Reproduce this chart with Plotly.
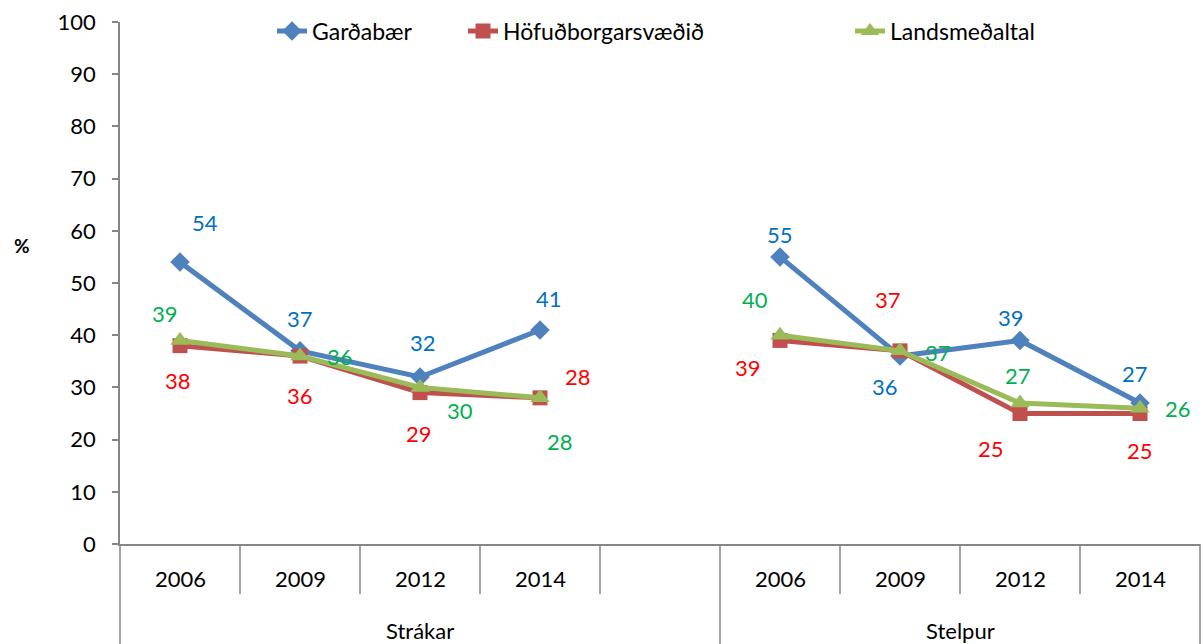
import plotly.graph_objects as go

# Categories
groups = ["Strákar", "Stelpur"]
years = ["2006", "2009", "2012", "2014"]

# Series values (%), Strákar then Stelpur
series_names = ["Garðabær", "Höfuðborgarsvæðið", "Landsmeðaltal"]
gardabaer = [54, 37, 32, 41, 55, 36, 39, 27]
hofudborg = [38, 36, 29, 28, 39, 37, 25, 25]
landsmedaltal = [39, 36, 30, 28, 40, 37, 27, 26]

# y-axis ticks
y_ticks = list(range(0, 101, 10))

# ---- styling ----
FONT = "Lato"
TXT = 22
LEG_TXT = 23
line_colors = ["#4F81BD", "#C0504D", "#9BBB59"]
label_colors = ["#0070C0", "#FF0000", "#00B050"]
symbols = ["diamond", "square", "triangle-up"]
marker_sizes = [15, 15, 17]
axis_color = "#868686"
legend_ids = ["legend", "legend2", "legend3"]
legend_left_px = [272, 463, 850]

# label offsets in pixels (dx, dy) for each point of each series
label_offsets = [
    [(25, -40), (0, -32), (3, -34), (9, -31), (0, -22), (-15, 30), (-9, -23), (-5, -30)],
    [(-2, 35), (0, 39), (-1, 41), (38, -21), (-32, 27), (-12, -51), (-29, 35), (0, 37)],
    [(-15, -27), (40, 0), (40, 23), (20, 44), (-25, -36), (38, 2), (-2, -28), (38, 0)],
]

W, H = 1204, 644
ML, MR, MT, MB = 120, 4, 22, 100
plot_w = W - ML - MR
plot_h = H - MT - MB

n_years = len(years)
slots_per_group = n_years + 1          # one empty slot between groups
n_slots = n_years * len(groups) + (len(groups) - 1)
x_lo, x_hi = -0.5, n_slots - 0.5

xs, xt = [], []
for gi, g in enumerate(groups):
    for yi, yr in enumerate(years):
        xs.append(gi * slots_per_group + yi)
        xt.append(yr)

fig = go.Figure()
all_series = [gardabaer, hofudborg, landsmedaltal]
for i, (name, vals) in enumerate(zip(series_names, all_series)):
    for gi in range(len(groups)):
        sl = slice(gi * n_years, (gi + 1) * n_years)
        fig.add_trace(go.Scatter(
            x=xs[sl], y=vals[sl], mode="lines+markers", name=name,
            legendgroup=name, showlegend=(gi == 0), legend=legend_ids[i],
            line=dict(color=line_colors[i], width=5),
            marker=dict(symbol=symbols[i], size=marker_sizes[i], color=line_colors[i],
                        line=dict(width=0)),
            cliponaxis=False, hoverinfo="skip",
        ))

annotations = []
# data labels
for i, vals in enumerate(all_series):
    for j, v in enumerate(vals):
        dx, dy = label_offsets[i][j]
        annotations.append(dict(
            x=xs[j], y=v, xref="x", yref="y", text=str(v), showarrow=False,
            xshift=dx, yshift=-dy, font=dict(family=FONT, size=TXT, color=label_colors[i]),
            xanchor="center", yanchor="middle",
        ))

# year tick labels
for x, t in zip(xs, xt):
    annotations.append(dict(
        x=x, y=0, xref="x", yref="y", text=t, showarrow=False, yshift=-34,
        font=dict(family=FONT, size=TXT, color="#000000"), xanchor="center", yanchor="middle",
    ))

# group labels
span = x_hi - x_lo
bounds = [x_lo] + [gi * slots_per_group + n_years + 0.5 for gi in range(len(groups) - 1)] + [x_hi]
for gi, g in enumerate(groups):
    cx = (bounds[gi] + bounds[gi + 1]) / 2
    annotations.append(dict(
        x=cx, y=0, xref="x", yref="y", text=g, showarrow=False, yshift=-86,
        font=dict(family=FONT, size=TXT, color="#000000"), xanchor="center", yanchor="middle",
    ))

# y-axis title
annotations.append(dict(
    x=(22 - ML) / plot_w, y=(plot_h + MT - 245) / plot_h, xref="paper", yref="paper",
    text="<b>%</b>", showarrow=False, font=dict(family=FONT, size=19, color="#000000"),
    xanchor="center", yanchor="middle",
))

# category divider lines below the axis
shapes = []
for k in range(n_slots + 1):
    bx = x_lo + k
    full = any(abs(bx - b) < 1e-9 for b in bounds)
    y_end = -MB / plot_h if full else -50 / plot_h
    shapes.append(dict(
        type="line", xref="x domain", yref="paper",
        x0=(bx - x_lo) / span, x1=(bx - x_lo) / span, y0=0, y1=y_end,
        line=dict(color=axis_color, width=1.5),
    ))

legend_common = dict(orientation="h", yanchor="middle", xanchor="left",
                      y=(plot_h + MT - 31) / plot_h, bgcolor="rgba(0,0,0,0)",
                      font=dict(family=FONT, size=LEG_TXT, color="#000000"))
legends = {}
for lid, px in zip(legend_ids, legend_left_px):
    legends[lid] = dict(legend_common, x=(px - ML) / plot_w)

fig.update_layout(
    width=W, height=H,
    margin=dict(l=ML, r=MR, t=MT, b=MB),
    paper_bgcolor="white", plot_bgcolor="white",
    font=dict(family=FONT, size=TXT, color="#000000"),
    showlegend=True,
    xaxis=dict(range=[x_lo, x_hi], showticklabels=False, ticks="", showgrid=False,
               zeroline=False, showline=True, linecolor=axis_color, linewidth=1.5),
    yaxis=dict(range=[0, 100], tickvals=y_ticks, ticks="outside", ticklen=6,
               tickcolor=axis_color, tickwidth=1.5, showgrid=False, zeroline=False,
               showline=True, linecolor=axis_color, linewidth=1.5, ticklabelstandoff=12,
               tickfont=dict(family=FONT, size=TXT, color="#000000")),
    annotations=annotations,
    shapes=shapes,
    **legends,
)

fig.write_html("out.html")
